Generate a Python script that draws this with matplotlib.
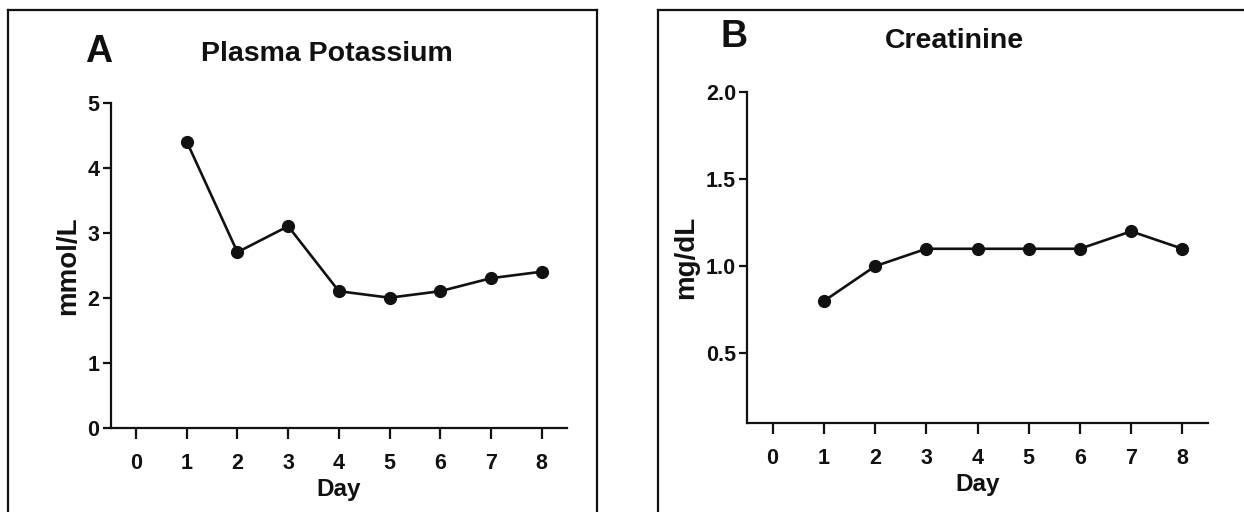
import matplotlib
matplotlib.use("Agg")
import matplotlib.pyplot as plt
from matplotlib.lines import Line2D

W, H = 1244, 512
plt.rcParams['font.family'] = ['Liberation Sans', 'DejaVu Sans']
plt.rcParams['font.weight'] = 'bold'

days = [1, 2, 3, 4, 5, 6, 7, 8]
x_ticks = [0, 1, 2, 3, 4, 5, 6, 7, 8]
potassium = [4.4, 2.7, 3.1, 2.1, 2.0, 2.1, 2.3, 2.4]
creatinine = [0.8, 1.0, 1.1, 1.1, 1.1, 1.1, 1.2, 1.1]
potassium_ticks = [0, 1, 2, 3, 4, 5]
creatinine_ticks = [0.5, 1.0, 1.5, 2.0]
creatinine_labels = ["0.5", "1.0", "1.5", "2.0"]

fig = plt.figure(figsize=(W / 100, H / 100), dpi=100)
fig.patch.set_facecolor("white")


def fx(px):
    return px / W


def fy(py):
    return 1 - py / H


def panel_axes(left, right, top, bottom):
    return fig.add_axes([fx(left), fy(bottom), fx(right) - fx(left), fy(top) - fy(bottom)])


def style(ax):
    for s in ("top", "right"):
        ax.spines[s].set_visible(False)
    for s in ("left", "bottom"):
        ax.spines[s].set_linewidth(1.6)
        ax.spines[s].set_color("#111111")
    ax.tick_params(axis="y", length=6, width=1.6, pad=2, labelsize=15.5, colors="#111111")
    ax.tick_params(axis="x", length=8, width=1.6, pad=10, labelsize=15.5, colors="#111111")
    for lab in ax.get_xticklabels() + ax.get_yticklabels():
        lab.set_fontweight("bold")
    ax.set_xlim(-0.5, 8.5)
    ax.set_xticks(x_ticks)
    ax.set_xlabel("Day", fontsize=17.5, fontweight="bold", labelpad=3, color="#111111")


# Panel A: plasma potassium
axA = panel_axes(110.7, 567, 102.7, 427.7)
axA.plot(days, potassium, color="#111111", lw=1.9, marker="o", ms=8.5, clip_on=False)
axA.set_ylim(0, 5)
axA.set_yticks(potassium_ticks)
style(axA)
axA.set_ylabel("mmol/L", fontsize=20, fontweight="bold", labelpad=5, color="#111111")

# Panel B: creatinine
axB = panel_axes(747, 1208, 91.7, 423.3)
axB.plot(days, creatinine, color="#111111", lw=1.9, marker="o", ms=8.5, clip_on=False)
axB.set_ylim(0.1, 2.0)
axB.set_yticks(creatinine_ticks)
axB.set_yticklabels(creatinine_labels)
style(axB)
axB.set_ylabel("mg/dL", fontsize=20, fontweight="bold", labelpad=5, color="#111111")

# Panel letters and titles
fig.text(fx(99), fy(52), "A", fontsize=27, fontweight="bold", ha="center", va="center", color="#111111")
fig.text(fx(327), fy(54), "Plasma Potassium", fontsize=20.5, fontweight="bold", ha="center", va="center", color="#111111")
fig.text(fx(734), fy(37), "B", fontsize=27, fontweight="bold", ha="center", va="center", color="#111111")
fig.text(fx(954), fy(41), "Creatinine", fontsize=20.5, fontweight="bold", ha="center", va="center", color="#111111")

# Panel frames
frame_kw = dict(transform=fig.transFigure, color="#111111", lw=1.6)
fig.lines.extend([
    Line2D([fx(8), fx(8)], [fy(10), fy(H + 5)], **frame_kw),
    Line2D([fx(8), fx(597)], [fy(10), fy(10)], **frame_kw),
    Line2D([fx(597), fx(597)], [fy(10), fy(H + 5)], **frame_kw),
    Line2D([fx(658), fx(658)], [fy(10), fy(H + 5)], **frame_kw),
    Line2D([fx(658), fx(W + 5)], [fy(10), fy(10)], **frame_kw),
])

fig.savefig("out.png", dpi=100)
